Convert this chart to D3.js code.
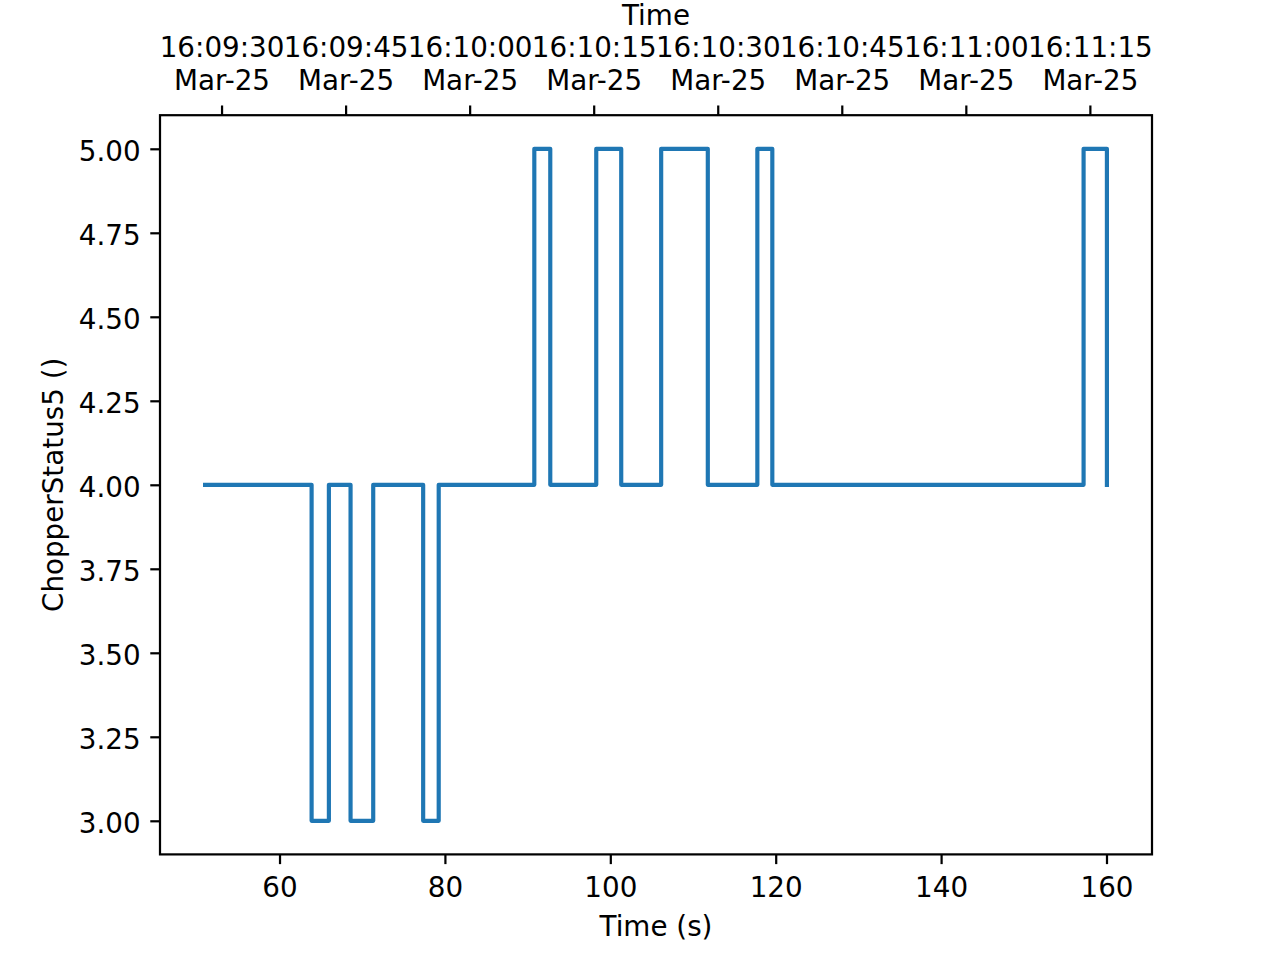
<!DOCTYPE html>
<html>
<head>
<meta charset="utf-8">
<script src="https://cdn.jsdelivr.net/npm/d3@7"></script>
<style>
  body { margin: 0; background: #fff; }
  text { font-family: "DejaVu Sans", sans-serif; fill: #000; }
</style>
</head>
<body>
<div id="chart"></div>
<script>
// figure is 6.4 x 4.8 in at 200 dpi, so 1 pt = 200/72 px
const pt = 200 / 72
const fontSize = 10 * pt

const margin = {top: 115.2, right: 128, bottom: 105.6, left: 160}
const width = 1280 - margin.left - margin.right
const height = 960 - margin.top - margin.bottom

// chopper status samples (seconds, status)
const times  = [51.0, 63.88, 65.97, 68.59, 71.33, 77.37, 79.25, 90.81, 92.74, 98.30, 101.32, 106.15, 111.79, 117.78, 119.59, 157.23, 160.05]
const values = [4, 3, 4, 3, 4, 3, 4, 5, 4, 5, 4, 5, 4, 5, 4, 5, 4]

const xTicks = [60, 80, 100, 120, 140, 160]
const yTicks = [3.00, 3.25, 3.50, 3.75, 4.00, 4.25, 4.50, 4.75, 5.00]

// wall clock time at t = 0 s
const startTime = Date.UTC(2019, 2, 25, 16, 8, 37, 10)

const data = times.map((t, i) => ({t: t, v: values[i]}))

// matplotlib style 5% margins
const tMin = d3.min(times), tMax = d3.max(times)
const tPad = (tMax - tMin) * 0.05
var x = d3.scaleLinear()
  .domain([tMin - tPad, tMax + tPad])
  .range([0, width])

var y = d3.scaleLinear()
  .domain([2.9, 5.1])
  .range([height, 0])

var xTime = d3.scaleUtc()
  .domain(x.domain().map(s => new Date(startTime + s * 1000)))
  .range([0, width])

var svg = d3.select("#chart")
  .append("svg")
  .attr("width", 1280)
  .attr("height", 960)
  .append("g")
  .attr("transform", "translate(" + margin.left + "," + margin.top + ")")

const tickLen = 3.5 * pt
const tickPad = 3.5 * pt
const axisW = 0.8 * pt

// step line
svg.append("path")
  .datum(data)
  .attr("fill", "none")
  .attr("stroke", "#1f77b4")
  .attr("stroke-width", 1.5 * pt)
  .attr("stroke-linejoin", "round")
  .attr("stroke-linecap", "square")
  .attr("d", d3.line()
    .curve(d3.curveStepAfter)
    .x(d => x(d.t))
    .y(d => y(d.v)))

// frame
svg.append("rect")
  .attr("width", width)
  .attr("height", height)
  .attr("fill", "none")
  .attr("stroke", "#000")
  .attr("stroke-width", axisW)

// bottom axis
var gx = svg.append("g")
  .attr("transform", "translate(0," + height + ")")
  .call(d3.axisBottom(x).tickValues(xTicks).tickSize(tickLen).tickPadding(tickPad + 3).tickFormat(d3.format("d")))
gx.select(".domain").remove()

// left axis
var gy = svg.append("g")
  .call(d3.axisLeft(y).tickValues(yTicks).tickSize(tickLen).tickPadding(tickPad).tickFormat(d3.format(".2f")))
gy.select(".domain").remove()
gy.selectAll(".tick text").attr("dy", "0.37em").attr("y", 1)

// top axis in wall clock time
var gt = svg.append("g")
  .call(d3.axisTop(xTime).ticks(d3.utcSecond.every(15)).tickSize(tickLen).tickFormat(""))
gt.select(".domain").remove()

svg.selectAll(".tick line").attr("stroke", "#000").attr("stroke-width", axisW)
svg.selectAll(".tick text")
  .style("font-size", fontSize + "px")
  .style("font-family", "DejaVu Sans")

gt.selectAll(".tick").each(function(d) {
  var t = d3.select(this).append("text")
    .attr("text-anchor", "middle")
    .style("font-size", fontSize + "px")
    .attr("fill", "#000")
  t.append("tspan").attr("x", 0).attr("y", -tickLen - tickPad - 5.6 - 1.2 * fontSize).text(d3.utcFormat("%H:%M:%S")(d))
  t.append("tspan").attr("x", 0).attr("y", -tickLen - tickPad - 5.6).text(d3.utcFormat("%b-%d")(d))
})

// axis labels
svg.append("text")
  .attr("x", width / 2)
  .attr("y", 936 - margin.top)
  .attr("text-anchor", "middle")
  .style("font-size", fontSize + "px")
  .text("Time (s)")

svg.append("text")
  .attr("x", width / 2)
  .attr("y", 25 - margin.top)
  .attr("text-anchor", "middle")
  .style("font-size", fontSize + "px")
  .text("Time")

svg.append("text")
  .attr("transform", "translate(" + (63 - margin.left) + "," + (height / 2) + ") rotate(-90)")
  .attr("text-anchor", "middle")
  .style("font-size", fontSize + "px")
  .text("ChopperStatus5 ()")
</script>
</body>
</html>
